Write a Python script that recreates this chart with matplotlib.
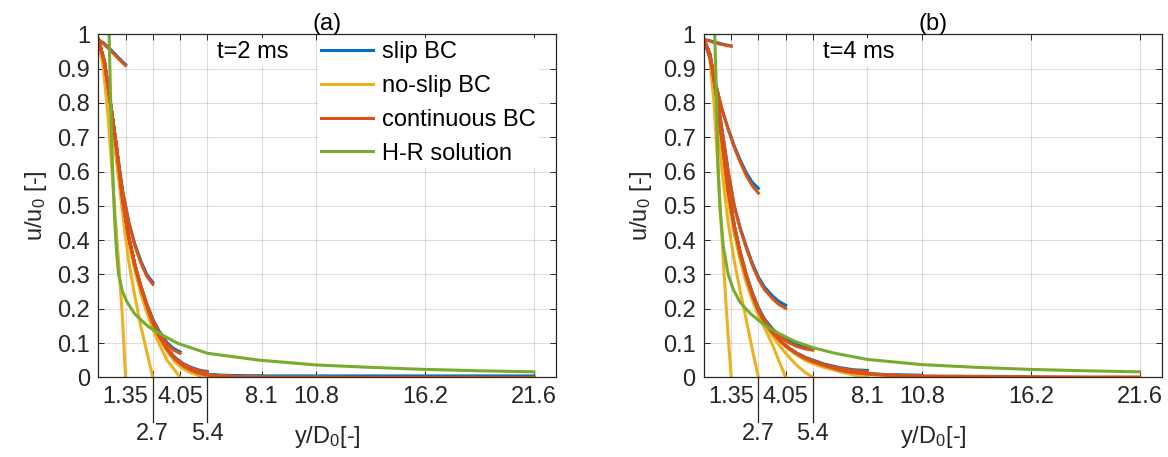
import matplotlib.pyplot as plt
from matplotlib.transforms import blended_transform_factory

plt.rcParams['font.family'] = ['Liberation Sans', 'DejaVu Sans']
plt.rcParams['mathtext.fontset'] = 'custom'
plt.rcParams['mathtext.rm'] = 'Liberation Sans'
plt.rcParams['mathtext.it'] = 'Liberation Sans'

# x grids for each domain length
x_135 = [0, 0.25, 0.5, 0.75, 1.0, 1.2, 1.35]
x_27 = [0, 0.3, 0.6, 0.9, 1.2, 1.5, 1.8, 2.1, 2.4, 2.7]
x_405 = [0, 0.3, 0.6, 0.9, 1.2, 1.5, 1.8, 2.1, 2.4, 2.7, 3.0, 3.4, 3.7, 4.05]
x_54 = [0, 0.3, 0.6, 0.9, 1.2, 1.5, 1.8, 2.1, 2.4, 2.7, 3.0, 3.4, 3.8, 4.2, 4.6, 5.0, 5.4]
x_81 = x_54 + [6.0, 6.75, 7.4, 8.1]
x_108 = x_81 + [9.0, 9.9, 10.8]
x_216 = x_108 + [13.5, 16.2, 18.9, 21.6]

# panel (a), t = 2 ms
a_slip_135 = [0.985, 0.975, 0.962, 0.947, 0.932, 0.920, 0.912]
a_cont_135 = [0.985, 0.973, 0.959, 0.944, 0.929, 0.917, 0.909]
a_noslip_135 = [0.985, 0.90, 0.75, 0.54, 0.34, 0.17, 0.0]

a_slip_27 = [0.985, 0.92, 0.80, 0.67, 0.545, 0.455, 0.39, 0.34, 0.30, 0.277]
a_cont_27 = [0.985, 0.92, 0.80, 0.67, 0.543, 0.452, 0.386, 0.335, 0.295, 0.271]
a_noslip_27 = [0.985, 0.91, 0.78, 0.63, 0.48, 0.34, 0.24, 0.15, 0.075, 0.0]

a_slip_405 = [0.985, 0.92, 0.80, 0.67, 0.52, 0.41, 0.33, 0.268, 0.215, 0.17, 0.136, 0.102, 0.085, 0.074]
a_cont_405 = [0.985, 0.92, 0.80, 0.67, 0.52, 0.41, 0.33, 0.266, 0.212, 0.166, 0.132, 0.097, 0.08, 0.07]
a_noslip_405 = [0.985, 0.92, 0.80, 0.66, 0.51, 0.40, 0.315, 0.245, 0.19, 0.14, 0.10, 0.05, 0.028, 0.0]

a_slip_54 = [0.985, 0.92, 0.80, 0.67, 0.52, 0.41, 0.33, 0.265, 0.21, 0.16, 0.123, 0.085, 0.058,
             0.04, 0.029, 0.021, 0.017]
a_cont_54 = [0.985, 0.92, 0.80, 0.67, 0.52, 0.41, 0.33, 0.265, 0.21, 0.16, 0.122, 0.084, 0.056,
             0.038, 0.027, 0.019, 0.015]
a_noslip_54 = [0.985, 0.92, 0.80, 0.67, 0.52, 0.41, 0.33, 0.265, 0.21, 0.158, 0.118, 0.076, 0.045,
               0.025, 0.013, 0.005, 0.0]

a_slip_81 = [0.985, 0.92, 0.80, 0.67, 0.52, 0.41, 0.33, 0.265, 0.21, 0.16, 0.122, 0.083, 0.054,
             0.035, 0.022, 0.014, 0.009, 0.006, 0.005, 0.004, 0.004]
a_cont_81 = [0.985, 0.92, 0.80, 0.67, 0.52, 0.41, 0.33, 0.265, 0.21, 0.16, 0.122, 0.083, 0.054,
             0.034, 0.021, 0.012, 0.007, 0.004, 0.002, 0.001, 0.001]
a_noslip_81 = [0.985, 0.92, 0.80, 0.67, 0.52, 0.41, 0.33, 0.265, 0.21, 0.16, 0.122, 0.083, 0.053,
               0.033, 0.02, 0.011, 0.006, 0.003, 0.001, 0.0005, 0.0]

a_slip_216 = [0.985, 0.92, 0.80, 0.67, 0.52, 0.41, 0.33, 0.265, 0.21, 0.16, 0.122, 0.083, 0.055,
              0.036, 0.023, 0.014, 0.009, 0.006, 0.005, 0.004, 0.004, 0.004, 0.004, 0.004,
              0.004, 0.004, 0.004, 0.004]
a_cont_216 = [0.985, 0.92, 0.80, 0.67, 0.52, 0.41, 0.33, 0.265, 0.21, 0.16, 0.122, 0.083, 0.054,
              0.034, 0.021, 0.012, 0.007, 0.004, 0.002, 0.001, 0.001, 0.0, 0.0, 0.0,
              0.0, 0.0, 0.0, 0.0]
a_noslip_216 = [0.985, 0.92, 0.80, 0.67, 0.52, 0.41, 0.33, 0.265, 0.21, 0.16, 0.122, 0.083, 0.054,
                0.034, 0.021, 0.012, 0.007, 0.004, 0.002, 0.001, 0.0, 0.0, 0.0, 0.0,
                -0.001, -0.001, -0.001, -0.001]

a_hr_x = [0.5, 0.55, 0.6, 0.7, 0.8, 0.9, 1.0, 1.2, 1.4, 1.8, 2.47, 3.02, 3.94, 5.41, 7.98,
          10.8, 13.5, 16.2, 18.9, 21.6]
a_hr = [1.1, 0.96, 0.83, 0.62, 0.47, 0.37, 0.30, 0.25, 0.222, 0.185, 0.148, 0.128, 0.099,
        0.07, 0.05, 0.036, 0.029, 0.023, 0.019, 0.016]

# panel (b), t = 4 ms
b_slip_135 = [0.985, 0.982, 0.978, 0.974, 0.970, 0.968, 0.966]
b_cont_135 = [0.985, 0.981, 0.976, 0.972, 0.969, 0.967, 0.965]
b_noslip_135 = [0.985, 0.95, 0.80, 0.55, 0.30, 0.12, 0.0]

b_slip_27 = [0.985, 0.93, 0.85, 0.78, 0.725, 0.675, 0.633, 0.596, 0.568, 0.551]
b_cont_27 = [0.985, 0.93, 0.85, 0.78, 0.723, 0.671, 0.627, 0.588, 0.558, 0.537]
b_noslip_27 = [0.985, 0.94, 0.81, 0.60, 0.45, 0.34, 0.25, 0.167, 0.08, 0.0]

b_slip_405 = [0.985, 0.94, 0.84, 0.72, 0.60, 0.50, 0.435, 0.381, 0.332, 0.292, 0.263, 0.237, 0.222, 0.21]
b_cont_405 = [0.985, 0.94, 0.84, 0.72, 0.60, 0.50, 0.432, 0.377, 0.327, 0.286, 0.256, 0.229, 0.213, 0.201]
b_noslip_405 = [0.985, 0.94, 0.82, 0.67, 0.52, 0.42, 0.34, 0.275, 0.225, 0.18, 0.145, 0.095, 0.05, 0.0]

b_slip_54 = [0.985, 0.94, 0.83, 0.69, 0.55, 0.445, 0.365, 0.30, 0.247, 0.203, 0.17, 0.141, 0.12,
             0.106, 0.096, 0.088, 0.084]
b_cont_54 = [0.985, 0.94, 0.83, 0.69, 0.55, 0.443, 0.362, 0.297, 0.243, 0.199, 0.166, 0.137, 0.116,
             0.101, 0.09, 0.083, 0.079]
b_noslip_54 = [0.985, 0.94, 0.83, 0.69, 0.545, 0.44, 0.36, 0.293, 0.238, 0.193, 0.158, 0.12, 0.088,
               0.06, 0.035, 0.015, 0.0]

b_slip_81 = [0.985, 0.94, 0.83, 0.69, 0.545, 0.44, 0.36, 0.295, 0.24, 0.195, 0.162, 0.13, 0.105,
             0.086, 0.071, 0.059, 0.05, 0.038, 0.028, 0.022, 0.02]
b_cont_81 = [0.985, 0.94, 0.83, 0.69, 0.545, 0.44, 0.36, 0.295, 0.24, 0.195, 0.162, 0.13, 0.105,
             0.085, 0.069, 0.057, 0.048, 0.036, 0.026, 0.02, 0.017]
b_noslip_81 = [0.985, 0.94, 0.83, 0.69, 0.545, 0.44, 0.36, 0.295, 0.24, 0.195, 0.16, 0.128, 0.102,
               0.082, 0.065, 0.05, 0.04, 0.028, 0.016, 0.007, 0.0]

b_slip_108 = [0.985, 0.94, 0.83, 0.69, 0.545, 0.44, 0.36, 0.295, 0.24, 0.195, 0.162, 0.13, 0.105,
              0.085, 0.069, 0.056, 0.046, 0.034, 0.022, 0.015, 0.011, 0.008, 0.007, 0.006]
b_cont_108 = [0.985, 0.94, 0.83, 0.69, 0.545, 0.44, 0.36, 0.295, 0.24, 0.195, 0.162, 0.13, 0.105,
              0.085, 0.069, 0.056, 0.046, 0.034, 0.021, 0.014, 0.01, 0.007, 0.005, 0.004]
b_noslip_108 = [0.985, 0.94, 0.83, 0.69, 0.545, 0.44, 0.36, 0.295, 0.24, 0.195, 0.162, 0.13, 0.105,
                0.084, 0.068, 0.055, 0.045, 0.033, 0.02, 0.012, 0.008, 0.004, 0.002, 0.0]

b_cont_216 = [0.985, 0.94, 0.83, 0.69, 0.545, 0.44, 0.36, 0.295, 0.24, 0.195, 0.162, 0.13, 0.105,
              0.085, 0.069, 0.056, 0.046, 0.034, 0.021, 0.014, 0.01, 0.007, 0.005, 0.004,
              0.003, 0.002, 0.001, 0.001]
b_noslip_216 = [0.985, 0.94, 0.83, 0.69, 0.545, 0.44, 0.36, 0.295, 0.24, 0.195, 0.162, 0.13, 0.105,
                0.085, 0.069, 0.056, 0.046, 0.034, 0.021, 0.014, 0.01, 0.007, 0.004, 0.003,
                0.0, -0.001, -0.001, -0.001]

b_hr_x = [0.5, 0.55, 0.6, 0.66, 0.71, 0.8, 0.96, 1.2, 1.46, 1.8, 2.28, 3.0, 3.77, 4.5, 5.42,
          6.5, 8.1, 10.8, 13.5, 16.2, 18.9, 21.6]
b_hr = [1.1, 0.97, 0.86, 0.70, 0.60, 0.49, 0.381, 0.30, 0.255, 0.218, 0.187, 0.152, 0.126,
        0.105, 0.086, 0.07, 0.052, 0.037, 0.029, 0.023, 0.019, 0.016]

xticks = [1.35, 2.7, 4.05, 5.4, 8.1, 10.8, 16.2, 21.6]
xticklabels = ['1.35', '', '4.05', '', '8.1', '10.8', '16.2', '21.6']
low_ticks = [2.7, 5.4]
low_labels = ['2.7', '5.4']
yticks = [0, 0.1, 0.2, 0.3, 0.4, 0.5, 0.6, 0.7, 0.8, 0.9, 1]
yticklabels = ['0', '0.1', '0.2', '0.3', '0.4', '0.5', '0.6', '0.7', '0.8', '0.9', '1']

c_slip = '#0072BD'
c_noslip = '#EDB120'
c_cont = '#D95319'
c_hr = '#77AC30'
c_text = '#262626'
lw = 2.2
fs = 17

fig = plt.figure(figsize=(11.68, 4.57), dpi=100)
ax_a = fig.add_axes([0.0842, 0.1744, 0.3919, 0.7505])
ax_b = fig.add_axes([0.6027, 0.1744, 0.3921, 0.7505])

panels = [
    (ax_a, '(a)', 't=2 ms',
     [(x_135, a_slip_135), (x_27, a_slip_27), (x_405, a_slip_405), (x_54, a_slip_54),
      (x_81, a_slip_81), (x_216, a_slip_216)],
     [(x_135, a_noslip_135), (x_27, a_noslip_27), (x_405, a_noslip_405), (x_54, a_noslip_54),
      (x_81, a_noslip_81), (x_216, a_noslip_216)],
     [(x_135, a_cont_135), (x_27, a_cont_27), (x_405, a_cont_405), (x_54, a_cont_54),
      (x_81, a_cont_81), (x_216, a_cont_216)],
     (a_hr_x, a_hr)),
    (ax_b, '(b)', 't=4 ms',
     [(x_135, b_slip_135), (x_27, b_slip_27), (x_405, b_slip_405), (x_54, b_slip_54),
      (x_81, b_slip_81), (x_108, b_slip_108)],
     [(x_135, b_noslip_135), (x_27, b_noslip_27), (x_405, b_noslip_405), (x_54, b_noslip_54),
      (x_81, b_noslip_81), (x_108, b_noslip_108), (x_216, b_noslip_216)],
     [(x_135, b_cont_135), (x_27, b_cont_27), (x_405, b_cont_405), (x_54, b_cont_54),
      (x_81, b_cont_81), (x_108, b_cont_108), (x_216, b_cont_216)],
     (b_hr_x, b_hr)),
]

for ax, title, tlabel, slip, noslip, cont, hr in panels:
    h = {}
    for x, y in slip:
        l, = ax.plot(x, y, color=c_slip, lw=lw)
        h.setdefault('slip', l)
    for x, y in noslip:
        l, = ax.plot(x, y, color=c_noslip, lw=lw)
        h.setdefault('noslip', l)
    for x, y in cont:
        l, = ax.plot(x, y, color=c_cont, lw=lw)
        h.setdefault('cont', l)
    l, = ax.plot(hr[0], hr[1], color=c_hr, lw=lw)
    h['hr'] = l

    ax.set_xlim(0, 22.7)
    ax.set_ylim(0, 1)
    ax.set_xticks(xticks)
    ax.set_xticklabels(xticklabels)
    ax.set_yticks(yticks)
    ax.set_yticklabels(yticklabels)
    ax.tick_params(direction='in', length=4, width=0.7, top=True, right=True,
                   labelsize=fs, colors=c_text, pad=6)
    ax.grid(True, color=c_text, alpha=0.15, lw=0.8)
    ax.set_axisbelow(True)
    for s in ax.spines.values():
        s.set_color(c_text)
        s.set_linewidth(0.9)

    trans = blended_transform_factory(ax.transData, ax.transAxes)
    for v, lab in zip(low_ticks, low_labels):
        ax.plot([v, v], [0, -0.13], transform=trans, clip_on=False, color=c_text, lw=0.9)
        ax.text(v, -0.165, lab, transform=trans, ha='center', va='center',
                fontsize=fs, color=c_text)

    ax.set_title(title, fontsize=fs, pad=3)
    ax.set_ylabel('u/u$_0$ [-]', fontsize=fs, color=c_text, labelpad=6)
    ax.set_xlabel('y/D$_0$[-]', fontsize=fs, color=c_text)
    ax.xaxis.set_label_coords(0.5, -0.135)
    ax.text(5.9, 0.948, tlabel, fontsize=fs, va='center', ha='left', color='black',
            bbox=dict(facecolor='white', edgecolor='none', pad=2))

    if ax is ax_a:
        leg = ax.legend([h['slip'], h['noslip'], h['cont'], h['hr']],
                        ['slip BC', 'no-slip BC', 'continuous BC', 'H-R solution'],
                        loc='upper left', bbox_to_anchor=(0.479, 0.99), fontsize=fs,
                        handlelength=2.2, handletextpad=0.37, labelspacing=0.5,
                        borderpad=0.15, borderaxespad=0, fancybox=False)
        leg.get_frame().set_facecolor('white')
        leg.get_frame().set_edgecolor('none')
        leg.get_frame().set_alpha(1)

fig.savefig('out.png', dpi=100)
